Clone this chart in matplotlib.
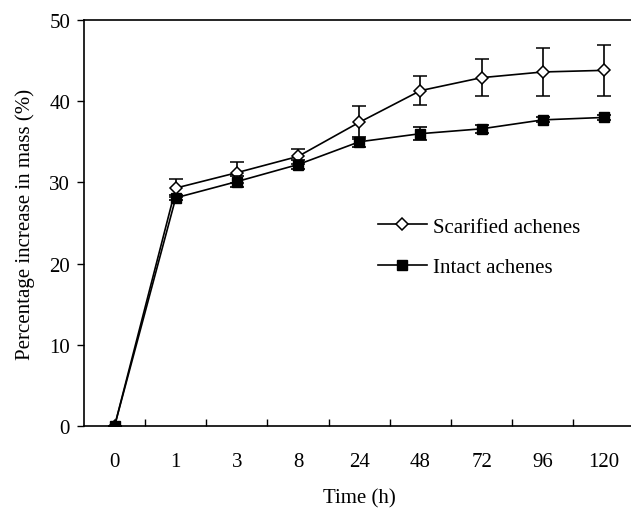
import matplotlib
matplotlib.use("Agg")
import matplotlib.pyplot as plt
from matplotlib.lines import Line2D
import numpy as np

plt.rcParams['font.family'] = ['Liberation Serif', 'DejaVu Serif']

time_labels = ["0", "1", "3", "8", "24", "48", "72", "96", "120"]
scarified = [0, 29.3, 31.2, 33.2, 37.4, 41.3, 42.9, 43.6, 43.8]
scarified_err = [0, 1.1, 1.3, 0.9, 2.0, 1.8, 2.3, 3.0, 3.1]
intact = [0, 28.1, 30.1, 32.2, 35.0, 36.0, 36.6, 37.7, 38.0]
intact_err = [0, 0.3, 0.7, 0.6, 0.6, 0.8, 0.5, 0.3, 0.3]

FS = 15
W, H = 631, 510
fig = plt.figure(figsize=(W / 100, H / 100), dpi=100)
ax = fig.add_axes([84 / W, (H - 427) / H, 550.5 / W, 406 / H])

x = np.arange(len(time_labels))

ax.errorbar(x, scarified, yerr=scarified_err, color='black', lw=1.2, marker='D',
            ms=6.5, mfc='white', mec='black', mew=1.1, capsize=5, elinewidth=1.2,
            capthick=1.2, zorder=3)
ax.errorbar(x, intact, yerr=intact_err, color='black', lw=1.2, marker='s',
            ms=7.5, mfc='black', mec='black', capsize=5, elinewidth=1.2,
            capthick=1.2, zorder=4)

ax.set_xlim(-0.5, len(time_labels) - 0.5)
ax.set_ylim(0, 50)
ax.set_yticks([0, 10, 20, 30, 40, 50])
ax.set_xticks(x)
ax.set_xticklabels(time_labels)
ax.set_xticks(x[:-1] + 0.5, minor=True)
ax.tick_params(axis='x', which='major', length=0, pad=19, labelsize=FS)
ax.tick_params(axis='x', which='minor', direction='in', length=5, width=1)
ax.tick_params(axis='y', direction='out', length=5, width=1, pad=5, labelsize=FS)

for sp in ax.spines.values():
    sp.set_linewidth(1.2)

ax.set_xlabel('Time (h)', fontsize=FS, labelpad=12)
ax.set_ylabel('Percentage increase in mass (%)', fontsize=FS, labelpad=10)

h1 = Line2D([], [], color='black', lw=1.2, marker='D', ms=6.5, mfc='white', mec='black', mew=1.1)
h2 = Line2D([], [], color='black', lw=1.2, marker='s', ms=7.5, mfc='black', mec='black')
leg = ax.legend([h1, h2], ['Scarified achenes', 'Intact achenes'], loc='upper left',
                bbox_to_anchor=((378 - 84) / 550.5, (427 - 218) / 406),
                frameon=False, fontsize=FS, borderpad=0, borderaxespad=0,
                handlelength=2.35, handletextpad=0.3, labelspacing=1.0)

fig.savefig('out.png', dpi=100)
